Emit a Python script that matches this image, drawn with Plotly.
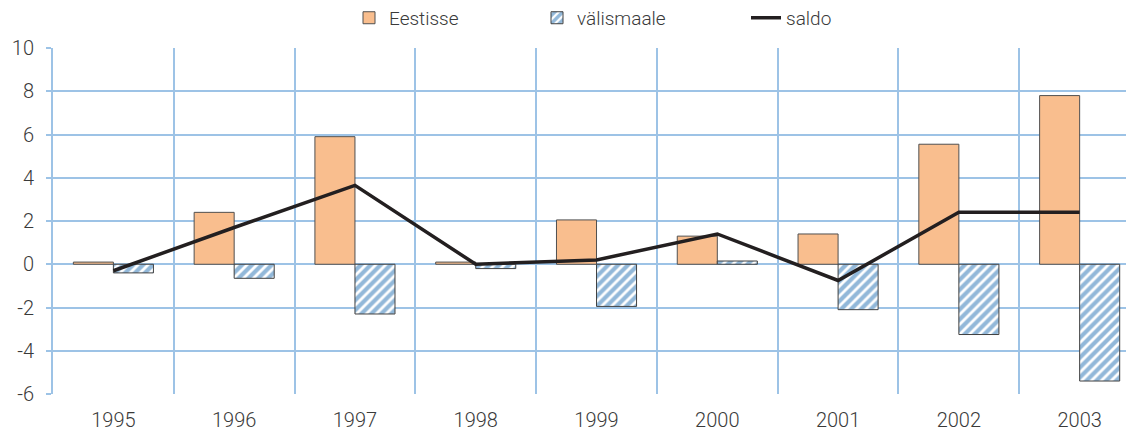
import plotly.graph_objects as go

years = ["1995", "1996", "1997", "1998", "1999", "2000", "2001", "2002", "2003"]
eestisse = [0.1, 2.4, 5.9, 0.1, 2.05, 1.3, 1.4, 5.55, 7.8]
valismaale = [-0.4, -0.65, -2.3, -0.2, -1.95, 0.15, -2.1, -3.25, -5.4]
saldo = [-0.3, 1.7, 3.65, 0.0, 0.2, 1.4, -0.75, 2.4, 2.4]
y_ticks = [-6, -4, -2, 0, 2, 4, 6, 8, 10]

grid = "#9dc3e6"
txt = "#3a3a3a"

fig = go.Figure()
fig.add_trace(go.Bar(
    x=years, y=eestisse, name="Eestisse", legend="legend",
    marker=dict(color="#f9be8e", line=dict(color="#505050", width=1)),
))
fig.add_trace(go.Bar(
    x=years, y=valismaale, name="välismaale", legend="legend2",
    marker=dict(
        color="white",
        line=dict(color="#404040", width=1),
        pattern=dict(shape="/", fgcolor="#2672b4", bgcolor="white", size=7, solidity=0.6),
    ),
))
fig.add_trace(go.Scatter(
    x=years, y=saldo, name="saldo", mode="lines", legend="legend3",
    line=dict(color="#231f20", width=3.5),
))

# the page body has an 8px margin, so the figure is 8px smaller each way
leg = dict(orientation="h", yref="paper", y=1.087, yanchor="middle",
           xref="container", xanchor="left",
           font=dict(family="Roboto", size=19, color=txt, weight=300))
W, H = 1126, 428

fig.update_layout(
    width=W, height=H,
    margin=dict(l=45, r=0, t=40, b=42, autoexpand=False),
    paper_bgcolor="white", plot_bgcolor="white",
    font=dict(family="Roboto", size=20, color=txt, weight=300),
    barmode="group", bargap=0.337, bargroupgap=0,
    showlegend=True,
    legend=dict(leg, x=341 / W),
    legend2=dict(leg, x=529 / W),
    legend3=dict(leg, x=738 / W),
)
fig.update_xaxes(
    type="category", range=[-0.5, 8.45], tickson="boundaries",
    showgrid=True, gridcolor=grid, gridwidth=2,
    showline=False, ticks="", ticklabelstandoff=12, automargin=False,
)
fig.update_yaxes(
    range=[-6, 10], tickvals=y_ticks, ticktext=[str(v) for v in y_ticks],
    showgrid=True, gridcolor=grid, gridwidth=2,
    zeroline=True, zerolinecolor=grid, zerolinewidth=2,
    showline=True, linecolor=grid, linewidth=2,
    ticks="outside", ticklen=5, tickcolor=grid, tickwidth=2, ticklabelstandoff=8,
    automargin=False,
)

fig.write_html("out.html")
